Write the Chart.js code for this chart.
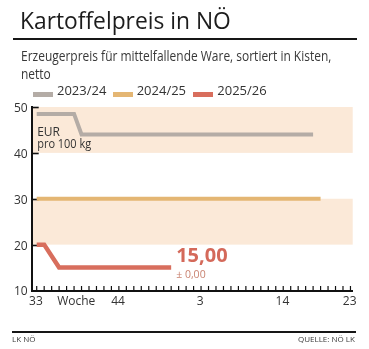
<!DOCTYPE html>
<html><head><meta charset="utf-8">
<script src="https://cdn.jsdelivr.net/npm/chart.js@4"></script>
<style>
html,body{margin:0;padding:0;background:#fff;}
body{width:369px;height:349px;position:relative;overflow:hidden;font-family:"Open Sans",sans-serif;color:#2e2e2e;}
.abs{position:absolute;white-space:nowrap;transform-origin:0 0;}
#title{left:20px;top:8.5px;font-size:22.8px;line-height:23px;color:#1c1c1c;}
#rule1{left:13px;top:38px;width:344px;height:2px;background:#161616;}
#sub{left:20.5px;top:47px;font-size:14px;line-height:18px;color:#383838;transform:scaleX(0.855);}
#rule2{left:12px;top:331px;width:344px;height:2px;background:#161616;}
#footL{left:12px;top:334px;font-size:8px;line-height:10px;color:#3a3a3a;}
#footR{left:298px;top:334px;font-size:8px;line-height:10px;color:#3a3a3a;}
.sw{position:absolute;width:20px;height:4.5px;top:92.3px;}
.lt{position:absolute;top:84px;font-size:13px;line-height:13px;color:#333;white-space:nowrap;}
#cv{position:absolute;left:0;top:0;}
</style></head>
<body>
<canvas id="cv" width="369" height="349"></canvas>
<div id="title" class="abs">Kartoffelpreis in NÖ</div>
<div id="rule1" class="abs"></div>
<div id="sub" class="abs">Erzeugerpreis für mittelfallende Ware, sortiert in Kisten,<br>netto</div>
<div id="legend"></div>
<div id="rule2" class="abs"></div>
<div id="footL" class="abs">LK NÖ</div>
<div id="footR" class="abs">QUELLE: NÖ LK</div>
<script>
// ---- data ----
const seriesNames = ["2023/24", "2024/25", "2025/26"];
const weeks2324 = [0, 5, 6, 37];          // week index counted from week 33
const price2324 = [48.5, 48.5, 44, 44];
const weeks2425 = [0, 38];
const price2425 = [30, 30];
const weeks2526 = [0, 1, 3, 18];
const price2526 = [20, 20, 15, 15];
const xTickPos = [0, 5.4, 11, 22, 33, 42];
const xTickLabels = ["33", "Woche", "44", "3", "14", "23"];
const yTicks = [10, 20, 30, 40, 50];
const bands = [[40, 50], [20, 30]];
const unitLines = ["EUR", "pro 100 kg"];

const colors = ["#b4aca6", "#e4b673", "#d86e5d"];
const BAND = "#fbe9d8";

// legend (HTML)
const legLeft = [33, 112.7, 193.3];
const legEl = document.getElementById('legend');
seriesNames.forEach((n, i) => {
  const s = document.createElement('div'); s.className = 'sw';
  s.style.left = legLeft[i] + 'px'; s.style.background = colors[i];
  const t = document.createElement('div'); t.className = 'lt';
  t.style.left = (legLeft[i] + 24) + 'px'; t.textContent = n;
  legEl.appendChild(s); legEl.appendChild(t);
});

const toPts = (xs, ys) => xs.map((x, i) => ({x, y: ys[i]}));

const deco = {
  id: 'deco',
  beforeDraw(chart) {
    const {ctx, chartArea: a, scales: {y}} = chart;
    ctx.save();
    ctx.fillStyle = BAND;
    bands.forEach(([lo, hi]) => {
      const t = y.getPixelForValue(hi), b = y.getPixelForValue(lo);
      ctx.fillRect(a.left + 1, t, a.right - a.left - 1, b - t);
    });
    ctx.restore();
  },
  beforeDatasetsDraw(chart) {
    const {ctx, chartArea: a, scales: {x, y}} = chart;
    ctx.save();
    ctx.strokeStyle = '#111';
    ctx.lineWidth = 1.6;
    yTicks.slice(1).forEach(v => {
      const py = Math.round(y.getPixelForValue(v)) + 0.5;
      ctx.beginPath(); ctx.moveTo(a.left, py); ctx.lineTo(a.left + 7, py); ctx.stroke();
    });
    ctx.lineWidth = 1.2;
    for (let i = 0; i <= 42; i++) {
      const px = x.getPixelForValue(i);
      ctx.beginPath(); ctx.moveTo(px, a.bottom); ctx.lineTo(px, a.bottom - 4.5); ctx.stroke();
    }
    ctx.restore();
  },
  afterDatasetsDraw(chart) {
    const {ctx, chartArea: a, scales: {x, y}} = chart;
    ctx.save();
    ctx.fillStyle = '#333';
    ctx.font = '12px "Open Sans"';
    ctx.textBaseline = 'alphabetic';
    ctx.fillText(unitLines[0], a.left + 5.5, a.top + 29);
    ctx.fillText(unitLines[1], a.left + 5.5, a.top + 40.5, 54);
    const lastX = weeks2526[weeks2526.length - 1];
    const lastV = price2526[price2526.length - 1];
    const prevV = price2526[price2526.length - 2];
    const px = x.getPixelForValue(lastX) + 5;
    const py = y.getPixelForValue(lastV);
    ctx.fillStyle = '#d4695a';
    ctx.font = 'bold 20px "Open Sans"';
    ctx.fillText(lastV.toFixed(2).replace('.', ','), px, py - 5.5);
    const d = lastV - prevV;
    ctx.fillStyle = '#c98270';
    ctx.font = '10.5px "Open Sans"';
    ctx.fillText((d === 0 ? '± ' : (d > 0 ? '+ ' : '− ')) + Math.abs(d).toFixed(2).replace('.', ','), px, py + 10.5);
    ctx.restore();
  }
};

new Chart(document.getElementById('cv'), {
  type: 'line',
  data: {
    datasets: [
      {label: seriesNames[0], data: toPts(weeks2324, price2324), borderColor: colors[0]},
      {label: seriesNames[1], data: toPts(weeks2425, price2425), borderColor: colors[1]},
      {label: seriesNames[2], data: toPts(weeks2526, price2526), borderColor: colors[2], borderWidth: 4.5}
    ]
  },
  options: {
    responsive: false,
    animation: false,
    devicePixelRatio: 1,
    layout: {padding: {left: 0, top: 107, right: 16.3, bottom: 36.5}},
    elements: {
      line: {borderWidth: 4, tension: 0, borderCapStyle: 'butt', borderJoinStyle: 'miter'},
      point: {radius: 0, hoverRadius: 0}
    },
    plugins: {legend: {display: false}, tooltip: {enabled: false}},
    scales: {
      x: {
        type: 'linear', min: -0.67, max: 42.3,
        grid: {display: true, drawOnChartArea: false, drawTicks: false},
        border: {display: true, color: '#111', width: 2},
        afterBuildTicks: s => { s.ticks = xTickPos.map(v => ({value: v})); },
        afterFit: s => { s.height = 22; },
        ticks: {
          autoSkip: false, maxRotation: 0, padding: 4, color: '#333', labelOffset: -0.8,
          font: {family: 'Open Sans', size: 12},
          callback: v => { const i = xTickPos.indexOf(v); return i >= 0 ? xTickLabels[i] : ''; }
        }
      },
      y: {
        min: 10, max: 50,
        grid: {display: true, drawOnChartArea: false, drawTicks: false},
        border: {display: true, color: '#111', width: 2},
        afterBuildTicks: s => { s.ticks = yTicks.map(v => ({value: v})); },
        afterFit: s => { s.width = 31.7; },
        ticks: {padding: 4, color: '#333', labelOffset: 1.5, font: {family: 'Open Sans', size: 12}}
      }
    }
  },
  plugins: [deco]
});
</script>
</body></html>
